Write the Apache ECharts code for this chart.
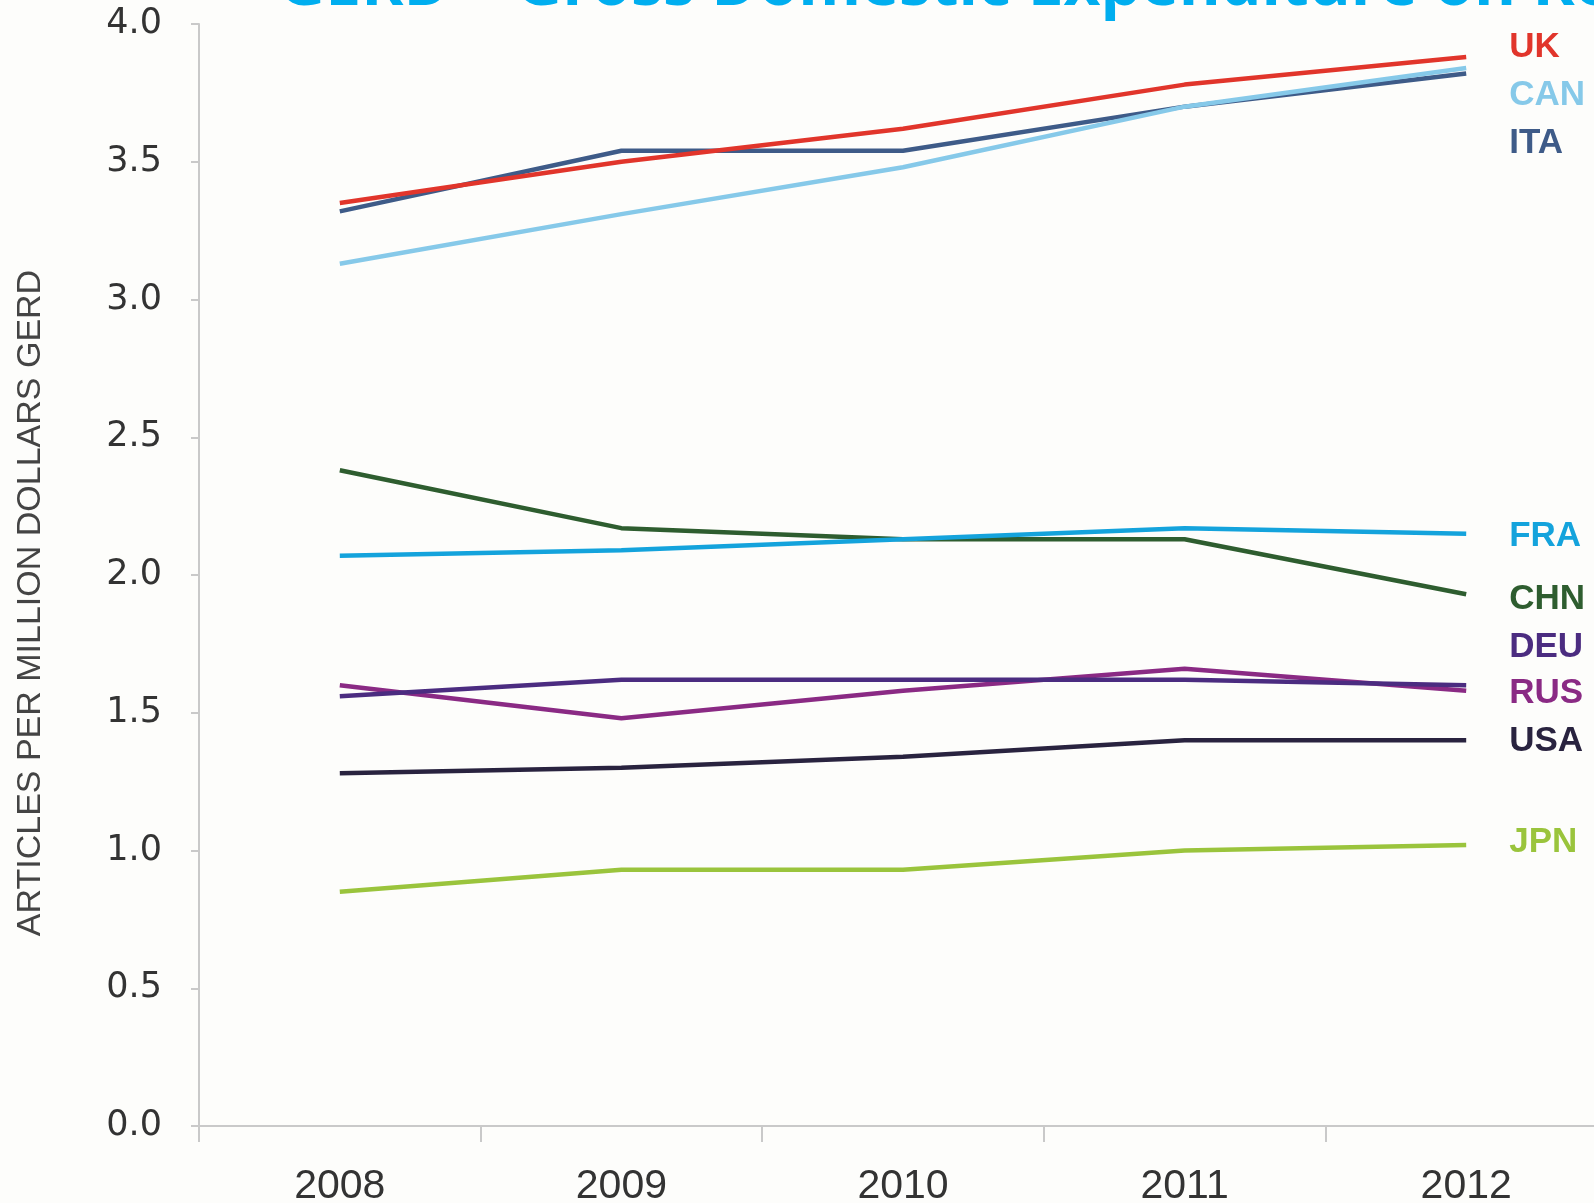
<!DOCTYPE html>
<html><head><meta charset="utf-8">
<script src="https://cdn.jsdelivr.net/npm/echarts@6/dist/echarts.min.js"></script>
<style>html,body{margin:0;padding:0;background:#fdfdfb}#c{width:1594px;height:1203px}</style>
</head><body><div id="c"></div>
<script>
// ---- data ----
const years = ['2008', '2009', '2010', '2011', '2012'];
const countries = ['ITA', 'CAN', 'UK', 'CHN', 'FRA', 'RUS', 'DEU', 'USA', 'JPN'];
const UK  = [3.35, 3.50, 3.62, 3.78, 3.88];
const CAN = [3.13, 3.31, 3.48, 3.70, 3.84];
const ITA = [3.32, 3.54, 3.54, 3.70, 3.82];
const CHN = [2.38, 2.17, 2.13, 2.13, 1.93];
const FRA = [2.07, 2.09, 2.13, 2.17, 2.15];
const DEU = [1.56, 1.62, 1.62, 1.62, 1.60];
const RUS = [1.60, 1.48, 1.58, 1.66, 1.58];
const USA = [1.28, 1.30, 1.34, 1.40, 1.40];
const JPN = [0.85, 0.93, 0.93, 1.00, 1.02];
const values = { UK, CAN, ITA, CHN, FRA, DEU, RUS, USA, JPN };
const titleText = 'GERD – Gross Domestic Expenditure on Research';
const yAxisName = 'ARTICLES PER MILLION DOLLARS GERD';

// ---- styles ----
const colors = { UK: '#e1352b', CAN: '#86c9e9', ITA: '#3e5b88', FRA: '#14a3dc', CHN: '#2e5d2f',
                 DEU: '#4b2c80', RUS: '#8a2a84', USA: '#29233f', JPN: '#9ac43c' };
const labelShift = { UK: -10, CAN: 27, ITA: 70, FRA: 3, CHN: 5, DEU: -38, RUS: 3, USA: 1, JPN: -3 };

const chart = echarts.init(document.getElementById('c'), null, { renderer: 'canvas' });
chart.setOption({
  animation: false,
  backgroundColor: '#fdfdfb',
  title: {
    text: titleText, left: 274, top: -50,
    textStyle: { color: '#00aeef', fontSize: 64, fontWeight: 'bold', fontFamily: 'Open Sans' }
  },
  grid: { left: 199, width: 1408, top: 24, bottom: 77, containLabel: false, outerBoundsMode: 'none' },
  xAxis: {
    type: 'category', data: years, boundaryGap: true,
    axisLine: { lineStyle: { color: '#c9c9c9', width: 2 } },
    axisTick: { show: true, length: 16, lineStyle: { color: '#c9c9c9', width: 2 } },
    axisLabel: { margin: 40, color: '#333', fontSize: 41, fontFamily: 'Liberation Sans' }
  },
  yAxis: {
    type: 'value', min: 0, max: 4, interval: 0.5,
    name: yAxisName, nameLocation: 'middle', nameRotate: 90, nameGap: 151,
    nameTextStyle: { color: '#444', fontSize: 34, fontFamily: 'Liberation Sans', padding: [0, 56, 0, 0] },
    axisLine: { show: true, lineStyle: { color: '#c9c9c9', width: 2 } },
    axisTick: { show: true, length: 8, lineStyle: { color: '#c9c9c9', width: 2 } },
    splitLine: { show: false },
    axisLabel: { margin: 37, color: '#333', fontSize: 35, fontFamily: 'DejaVu Sans',
                 formatter: v => v.toFixed(1) }
  },
  series: countries.map(c => ({
    name: c, type: 'line', data: values[c], symbol: 'none',
    lineStyle: { color: colors[c], width: 4.5 },
    itemStyle: { color: colors[c] },
    endLabel: {
      show: true, formatter: '{a}', distance: 43, offset: [0, labelShift[c]],
      color: colors[c], fontSize: 35, fontWeight: 'bold', fontFamily: 'Liberation Sans'
    }
  }))
});
</script></body></html>
